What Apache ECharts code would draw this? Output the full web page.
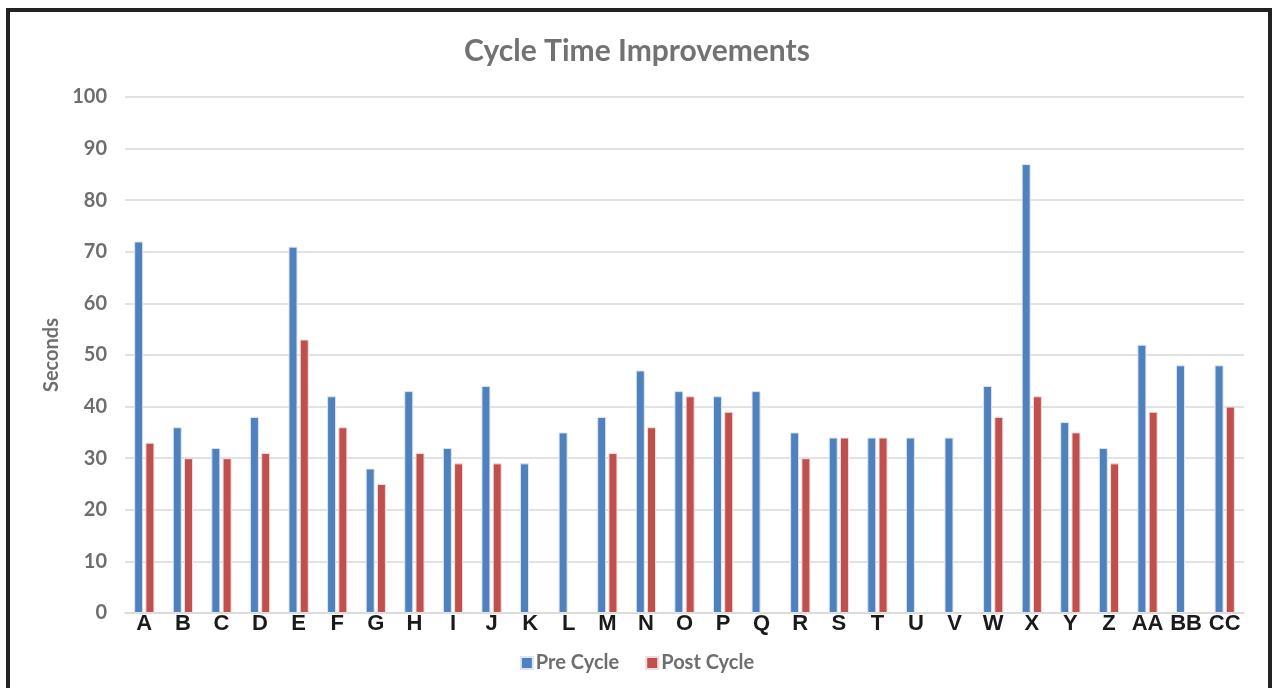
<!DOCTYPE html>
<html>
<head>
<meta charset="utf-8">
<title>Cycle Time Improvements</title>
<script src="https://cdn.jsdelivr.net/npm/echarts@6/dist/echarts.min.js"></script>
<style>
  html, body { margin: 0; padding: 0; width: 100%; height: 100%; background: #fff; }
  #chart { width: 1274px; height: 688px; }
</style>
</head>
<body>
<div id="chart"></div>
<script>
  var categories = ['A','B','C','D','E','F','G','H','I','J','K','L','M','N','O','P','Q','R','S','T','U','V','W','X','Y','Z','AA','BB','CC'];
  var preCycle  = [72, 36, 32, 38, 71, 42, 28, 43, 32, 44, 29, 35, 38, 47, 43, 42, 43, 35, 34, 34, 34, 34, 44, 87, 37, 32, 52, 48, 48];
  var postCycle = [33, 30, 30, 31, 53, 36, 25, 31, 29, 29, null, null, 31, 36, 42, 39, null, 30, 34, 34, null, null, 38, 42, 35, 29, 39, null, 40];

  var gray = '#6e6e6e';
  var font = 'Lato, "Open Sans", sans-serif';

  var chart = echarts.init(document.getElementById('chart'));
  chart.setOption({
    animation: false,
    title: {
      text: 'Cycle Time Improvements',
      left: 'center',
      top: 31,
      textStyle: { color: '#727272', fontSize: 30, fontWeight: 'bold', fontFamily: font }
    },
    legend: {
      data: ['Pre Cycle', 'Post Cycle'],
      top: 648,
      left: 'center',
      itemWidth: 12,
      itemHeight: 12,
      itemGap: 26,
      icon: 'rect',
      textStyle: { color: gray, fontSize: 20, fontWeight: 'bold', fontFamily: font, padding: [0, 0, 0, -2] }
    },
    grid: { left: 125, right: 30, top: 97, bottom: 75 },
    xAxis: {
      type: 'category',
      data: categories,
      axisLine: { lineStyle: { color: '#d9d9d9', width: 1.5 } },
      axisTick: { show: false },
      axisLabel: {
        interval: 0,
        margin: 0,
        color: '#1a1a1a',
        fontSize: 22,
        fontWeight: 'bold',
        fontFamily: '"Liberation Sans", Arial, sans-serif'
      }
    },
    yAxis: {
      type: 'value',
      min: 0,
      max: 100,
      interval: 10,
      name: 'Seconds',
      nameLocation: 'middle',
      nameGap: 62,
      nameTextStyle: { color: gray, fontSize: 20, fontWeight: 'bold', fontFamily: font },
      axisLine: { show: false },
      axisTick: { show: false },
      axisLabel: { margin: 18, color: gray, fontSize: 20, fontWeight: 'bold', fontFamily: font },
      splitLine: { lineStyle: { color: '#d9d9d9', width: 1.5 } }
    },
    series: [
      {
        name: 'Pre Cycle',
        type: 'bar',
        data: preCycle,
        barWidth: 9,
        barGap: '25%',
        itemStyle: { color: '#4f81bd', borderColor: '#dce6f2', borderWidth: 1 }
      },
      {
        name: 'Post Cycle',
        type: 'bar',
        data: postCycle,
        barWidth: 9,
        itemStyle: { color: '#c0504d', borderColor: '#f2dcdb', borderWidth: 1 }
      }
    ],
    graphic: [{
      type: 'rect',
      shape: { x: 8, y: 10, width: 1262, height: 700 },
      style: { fill: 'none', stroke: '#222', lineWidth: 4 },
      silent: true
    }]
  });
</script>
</body>
</html>
